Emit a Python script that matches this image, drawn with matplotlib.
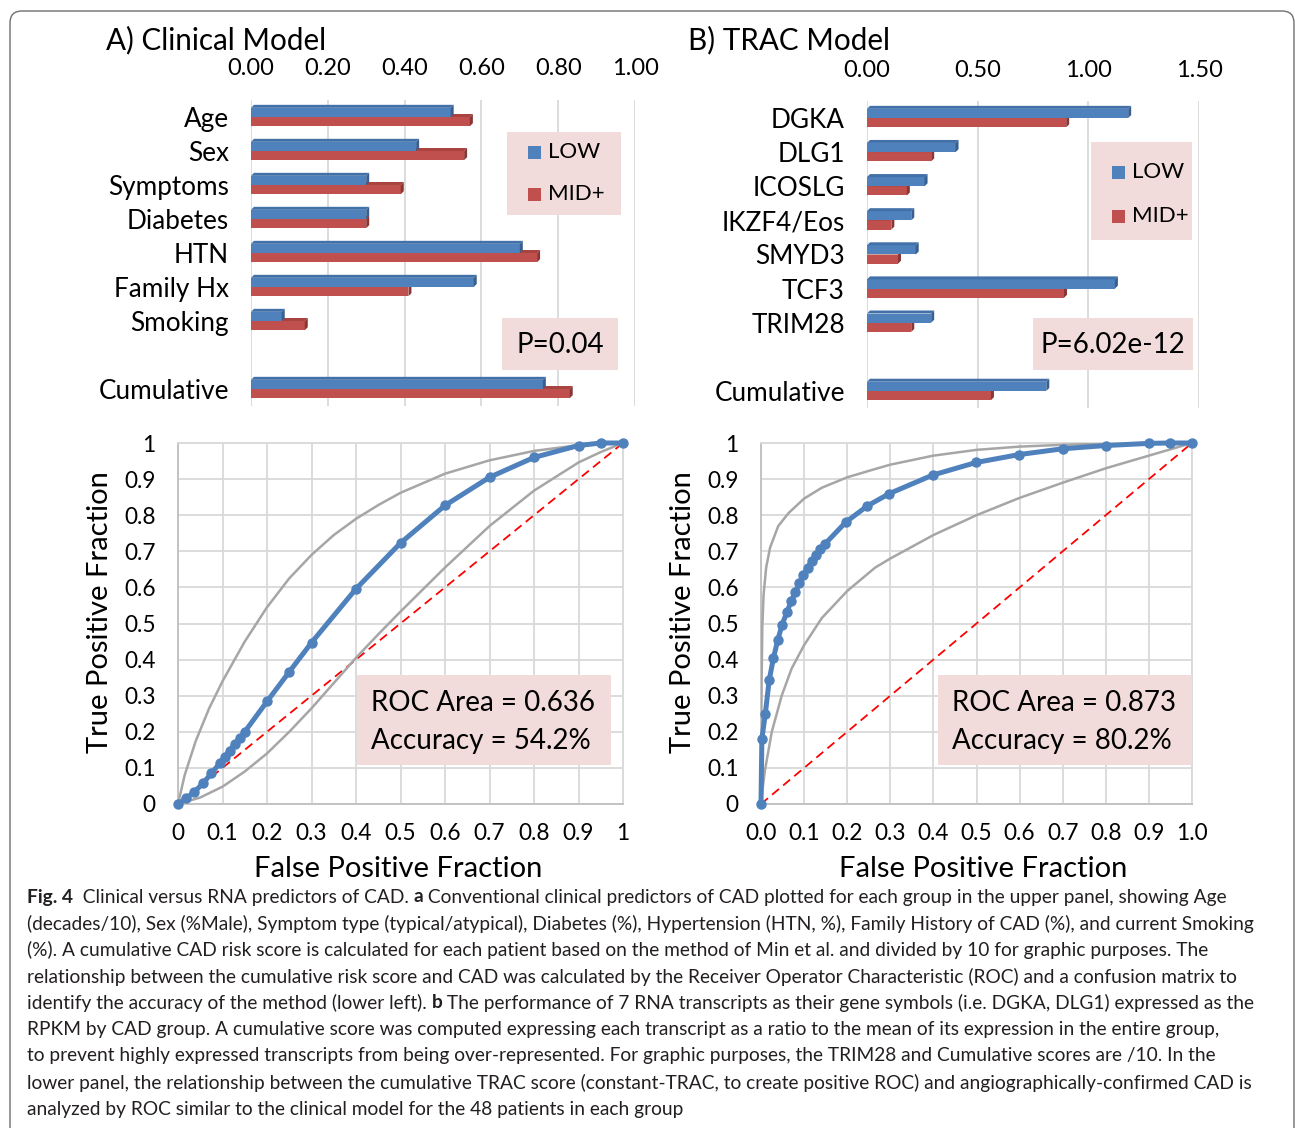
import numpy as np
import matplotlib
matplotlib.use("Agg")
import matplotlib.pyplot as plt
from matplotlib.patches import FancyBboxPatch, Rectangle, Polygon

# ---- data ----
clin_labels = ["Age", "Sex", "Symptoms", "Diabetes", "HTN", "Family Hx", "Smoking", "", "Cumulative"]
clin_low = [0.52, 0.43, 0.30, 0.30, 0.70, 0.58, 0.08, np.nan, 0.76]
clin_mid = [0.57, 0.555, 0.39, 0.30, 0.745, 0.41, 0.14, np.nan, 0.83]

trac_labels = ["DGKA", "DLG1", "ICOSLG", "IKZF4/Eos", "SMYD3", "TCF3", "TRIM28", "", "Cumulative"]
trac_low = [1.18, 0.40, 0.26, 0.20, 0.22, 1.12, 0.29, np.nan, 0.81]
trac_mid = [0.90, 0.29, 0.18, 0.11, 0.14, 0.89, 0.20, np.nan, 0.56]

# clinical ROC
roc1_fpf = [0, 0.019, 0.037, 0.056, 0.075, 0.094, 0.105, 0.116, 0.127, 0.139, 0.15,
            0.2, 0.25, 0.3, 0.4, 0.5, 0.6, 0.7, 0.8, 0.9, 0.95, 1.0]
roc1_tpf = [0, 0.016, 0.034, 0.057, 0.085, 0.113, 0.131, 0.148, 0.166, 0.182, 0.2,
            0.284, 0.366, 0.447, 0.596, 0.723, 0.827, 0.905, 0.96, 0.993, 1.0, 1.0]
ci1_hi_x = [0, 0.015, 0.04, 0.07, 0.1, 0.15, 0.2, 0.25, 0.3, 0.35, 0.4, 0.45, 0.5,
            0.6, 0.7, 0.8, 0.9, 1.0]
ci1_hi_y = [0, 0.08, 0.175, 0.265, 0.34, 0.45, 0.545, 0.625, 0.69, 0.745, 0.79, 0.828, 0.862,
            0.915, 0.952, 0.978, 0.994, 1.0]
ci1_lo_x = [0, 0.05, 0.1, 0.15, 0.2, 0.25, 0.3, 0.35, 0.4, 0.45, 0.5, 0.6, 0.7, 0.8,
            0.9, 0.95, 1.0]
ci1_lo_y = [0, 0.018, 0.048, 0.09, 0.14, 0.2, 0.265, 0.335, 0.405, 0.47, 0.533, 0.655, 0.77,
            0.868, 0.946, 0.975, 1.0]

# TRAC ROC
roc2_fpf = [0, 0.002, 0.01, 0.019, 0.029, 0.039, 0.049, 0.06, 0.07, 0.08, 0.089, 0.098,
            0.108, 0.118, 0.128, 0.137, 0.149, 0.197, 0.247, 0.298, 0.398, 0.499, 0.599,
            0.7, 0.8, 0.9, 0.95, 1.0]
roc2_tpf = [0, 0.18, 0.25, 0.343, 0.405, 0.455, 0.497, 0.531, 0.562, 0.587, 0.613, 0.634,
            0.655, 0.673, 0.689, 0.706, 0.721, 0.781, 0.826, 0.86, 0.911, 0.946, 0.968,
            0.984, 0.993, 0.999, 1.0, 1.0]
ci2_hi_x = [0, 0.0005, 0.0015, 0.003, 0.006, 0.012, 0.021, 0.04, 0.064, 0.1, 0.141, 0.2,
            0.265, 0.3, 0.4, 0.5, 0.6, 0.7, 0.8, 1.0]
ci2_hi_y = [0, 0.18, 0.35, 0.49, 0.58, 0.655, 0.71, 0.77, 0.806, 0.846, 0.876, 0.905,
            0.928, 0.94, 0.965, 0.981, 0.99, 0.995, 0.998, 1.0]
ci2_lo_x = [0, 0.004, 0.009, 0.025, 0.048, 0.071, 0.1, 0.141, 0.2, 0.265, 0.3, 0.4, 0.5,
            0.6, 0.7, 0.8, 0.9, 1.0]
ci2_lo_y = [0, 0.045, 0.092, 0.2, 0.3, 0.375, 0.44, 0.515, 0.59, 0.655, 0.68, 0.745, 0.8,
            0.848, 0.89, 0.93, 0.965, 1.0]

roc_ticks = [0, 0.1, 0.2, 0.3, 0.4, 0.5, 0.6, 0.7, 0.8, 0.9, 1.0]
roc1_xlabels = ["0", "0.1", "0.2", "0.3", "0.4", "0.5", "0.6", "0.7", "0.8", "0.9", "1"]
roc2_xlabels = ["0.0", "0.1", "0.2", "0.3", "0.4", "0.5", "0.6", "0.7", "0.8", "0.9", "1.0"]
roc_ylabels = ["0", "0.1", "0.2", "0.3", "0.4", "0.5", "0.6", "0.7", "0.8", "0.9", "1"]

caption = [
    [("Fig. 4", "bold"), ("  Clinical versus RNA predictors of CAD. ", "normal"), ("a", "bold"),
     (" Conventional clinical predictors of CAD plotted for each group in the upper panel, showing Age", "normal")],
    [("(decades/10), Sex (%Male), Symptom type (typical/atypical), Diabetes (%), Hypertension (HTN, %), Family History of CAD (%), and current Smoking", "normal")],
    [("(%). A cumulative CAD risk score is calculated for each patient based on the method of Min et al. and divided by 10 for graphic purposes. The", "normal")],
    [("relationship between the cumulative risk score and CAD was calculated by the Receiver Operator Characteristic (ROC) and a confusion matrix to", "normal")],
    [("identify the accuracy of the method (lower left). ", "normal"), ("b", "bold"),
     (" The performance of 7 RNA transcripts as their gene symbols (i.e. DGKA, DLG1) expressed as the", "normal")],
    [("RPKM by CAD group. A cumulative score was computed expressing each transcript as a ratio to the mean of its expression in the entire group,", "normal")],
    [("to prevent highly expressed transcripts from being over-represented. For graphic purposes, the TRIM28 and Cumulative scores are /10. In the", "normal")],
    [("lower panel, the relationship between the cumulative TRAC score (constant-TRAC, to create positive ROC) and angiographically-confirmed CAD is", "normal")],
    [("analyzed by ROC similar to the clinical model for the 48 patients in each group", "normal")],
]

BLUE = "#4F81BD"
RED = "#C0504D"
PINK = "#F2DCDB"
GRID = "#D9D9D9"

plt.rcParams["font.family"] = ["Lato", "DejaVu Sans"]

W, H = 1295, 1128
fig = plt.figure(figsize=(W / 100, H / 100), dpi=100)


def add_ax(l, t, r, b):
    return fig.add_axes([l / W, 1 - b / H, (r - l) / W, (b - t) / H])


def ftext(x, y, s, **kw):
    return fig.text(x / W, 1 - y / H, s, **kw)


def pink_box(l, t, r, b):
    fig.patches.append(Rectangle((l / W, 1 - b / H), (r - l) / W, (b - t) / H,
                                 transform=fig.transFigure, facecolor=PINK,
                                 edgecolor="none", zorder=5))


# outer rounded frame
fig.patches.append(FancyBboxPatch((0.10, -0.3), 12.84, 11.47,
                                  boxstyle="round,pad=0,rounding_size=0.12",
                                  transform=fig.dpi_scale_trans, facecolor="none",
                                  edgecolor="#6e6e6e", linewidth=1.0))


def bars_3d(ax, pos, vals, h, face, top, side, dx, dy, z):
    # flat front bars plus a thin top and end face, like Excel's 3-D bars
    ax.barh(pos, vals, height=h, color=face, edgecolor="none", zorder=z)
    for p, v in zip(pos, vals):
        if np.isnan(v):
            continue
        y0 = p - h / 2
        ax.add_patch(Polygon([(0, y0), (dx, y0 - dy), (v + dx, y0 - dy), (v, y0)],
                             closed=True, facecolor=top, edgecolor="none", zorder=z))
        ax.add_patch(Polygon([(v, y0), (v + dx, y0 - dy), (v + dx, y0 + h - dy), (v, y0 + h)],
                             closed=True, facecolor=side, edgecolor="none", zorder=z))


def bar_panel(l, t, r, b, labels, low, mid, xmax, ticks, ticklabels, xpad):
    ax = add_ax(l, t, r, b)
    pos = np.arange(len(labels))
    h = 0.27
    dx = 3.0 * xmax / (r - l)
    dy = 3.0 * len(labels) / (b - t)
    bars_3d(ax, pos + h / 2, mid, h, RED, "#A9433F", "#8A3634", dx, dy, 3)
    bars_3d(ax, pos - h / 2, low, h, BLUE, "#4270A8", "#37608F", dx, dy, 4)
    ax.set_xlim(0, xmax)
    ax.set_ylim(len(labels) - 0.5, -0.5)
    ax.set_yticks(pos)
    ax.set_yticklabels(labels, fontsize=18.8)
    ax.xaxis.tick_top()
    ax.set_xticks(ticks)
    ax.set_xticklabels(ticklabels, fontsize=17)
    ax.tick_params(axis="both", length=0)
    ax.tick_params(axis="y", pad=16)
    ax.tick_params(axis="x", pad=xpad)
    ax.grid(axis="x", color=GRID, linewidth=1.3, zorder=0)
    for s in ax.spines.values():
        s.set_visible(False)
    return ax


bar_panel(251, 100, 635, 406, clin_labels, clin_low, clin_mid, 1.0,
          [0, 0.2, 0.4, 0.6, 0.8, 1.0], ["0.00", "0.20", "0.40", "0.60", "0.80", "1.00"], 15)
bar_panel(867, 101, 1199, 408, trac_labels, trac_low, trac_mid, 1.5,
          [0, 0.5, 1.0, 1.5], ["0.00", "0.50", "1.00", "1.50"], 14.5)

ftext(106, 40, "A) Clinical Model", fontsize=21.3, va="center", ha="left")
ftext(688, 40, "B) TRAC Model", fontsize=21.3, va="center", ha="left")

# legends and p-value boxes
for (l, t, r, b), (y1, y2) in [((507, 132, 621, 215), (152, 194)),
                               ((1091, 142, 1192, 240), (172, 216))]:
    pink_box(l, t, r, b)
    for yy, col, lab in [(y1, BLUE, "LOW"), (y2, RED, "MID+")]:
        fig.patches.append(Rectangle(((l + 21) / W, 1 - (yy + 7) / H), 13 / W, 13 / H,
                                     transform=fig.transFigure, facecolor=col,
                                     edgecolor="none", zorder=6))
        ftext(l + 41, yy, lab, fontsize=16, va="center", ha="left", zorder=7)

pink_box(502, 318, 618, 370)
ftext(560, 345, "P=0.04", fontsize=20, va="center", ha="center", zorder=7)
pink_box(1033, 318, 1193, 370)
ftext(1113, 345, "P=6.02e-12", fontsize=20, va="center", ha="center", zorder=7)


def roc_panel(l, t, r, b, fx, ty, hx, hy, lx, ly, xlabels, box, area, acc, xl_x):
    ax = add_ax(l, t, r, b)
    ax.plot([0, 1], [0, 1], color="#FF0000", linestyle=(0, (5, 3)), linewidth=1.3, zorder=3)
    ax.plot(hx, hy, color="#A6A6A6", linewidth=1.8, zorder=3)
    ax.plot(lx, ly, color="#A6A6A6", linewidth=1.8, zorder=3)
    ax.plot(fx, ty, color=BLUE, linewidth=3.6, marker="o", markersize=6.5, zorder=4,
            clip_on=False)
    ax.set_xlim(0, 1)
    ax.set_ylim(0, 1)
    ax.set_xticks(roc_ticks)
    ax.set_yticks(roc_ticks)
    ax.set_xticklabels(xlabels, fontsize=16.3)
    ax.set_yticklabels(roc_ylabels, fontsize=16.3)
    ax.tick_params(length=0)
    ax.tick_params(axis="x", pad=14)
    ax.tick_params(axis="y", pad=16)
    ax.grid(True, color=GRID, linewidth=1.3, zorder=0)
    for s in ax.spines.values():
        s.set_color(GRID)
        s.set_linewidth(1.3)
    ax.spines["left"].set_color("#BFBFBF")
    ax.spines["bottom"].set_color("#BFBFBF")
    ax.set_xlabel("False Positive Fraction", fontsize=21, labelpad=8)
    ax.xaxis.label.set_x(xl_x)
    ax.set_ylabel("True Positive Fraction", fontsize=21, labelpad=8)
    ax.yaxis.label.set_y(0.532)
    bl, bt, br, bb = box
    pink_box(bl, bt, br, bb)
    ftext(bl + 14, bt + 28, area, fontsize=20, va="center", ha="left", zorder=7)
    ftext(bl + 14, bt + 66, acc, fontsize=20, va="center", ha="left", zorder=7)
    return ax


roc_panel(178, 443, 623, 804, roc1_fpf, roc1_tpf, ci1_hi_x, ci1_hi_y, ci1_lo_x, ci1_lo_y,
          roc1_xlabels, (357, 675, 611, 765), "ROC Area = 0.636", "Accuracy = 54.2%", 0.494)
roc_panel(761, 443, 1192, 804, roc2_fpf, roc2_tpf, ci2_hi_x, ci2_hi_y, ci2_lo_x, ci2_lo_y,
          roc2_xlabels, (938, 675, 1192, 765), "ROC Area = 0.873", "Accuracy = 80.2%", 0.515)

# caption, drawn segment by segment so bold runs line up
renderer = fig.canvas.get_renderer()
for i, line in enumerate(caption):
    x = 27
    y = 897 + i * 26.5
    for seg, wt in line:
        t = ftext(x, y, seg, fontsize=13.8, va="center", ha="left", fontweight=wt,
                  color="#231F20")
        x += t.get_window_extent(renderer).width

fig.savefig("out.png", dpi=100)
